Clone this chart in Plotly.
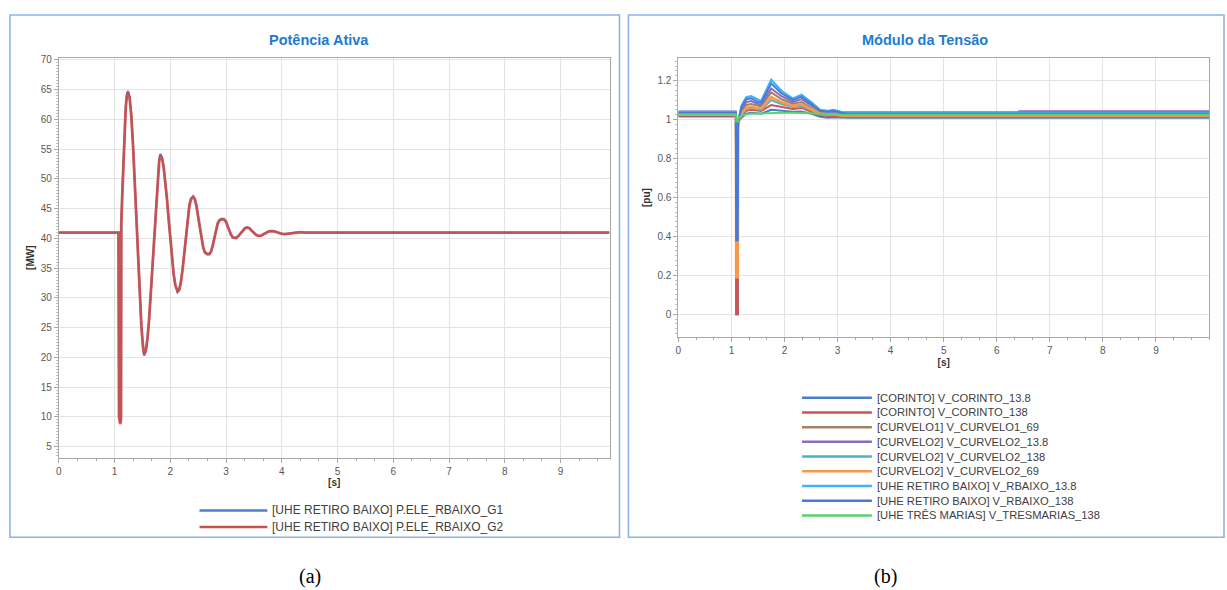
import plotly.graph_objects as go

W, H = 1227, 590


def px(x):
    return x / W


def py(y):
    return 1 - y / H


# ---------------- data: Potência Ativa [MW] ----------------
t_p = [0, 1.07, 1.08, 1.10, 1.115, 1.12, 1.14, 1.16, 1.18, 1.20, 1.22, 1.24,
       1.27, 1.30, 1.33, 1.36, 1.39, 1.42, 1.45, 1.48, 1.51, 1.53,
       1.56, 1.59, 1.62, 1.65, 1.68, 1.71, 1.74, 1.77, 1.80, 1.82,
       1.85, 1.88, 1.91, 1.94, 1.97, 2.00, 2.03, 2.06, 2.09, 2.13,
       2.16, 2.19, 2.22, 2.25, 2.28, 2.31, 2.34, 2.37, 2.41,
       2.44, 2.47, 2.50, 2.53, 2.56, 2.59, 2.62, 2.66, 2.70,
       2.73, 2.76, 2.79, 2.82, 2.85, 2.88, 2.92, 2.96,
       3.00, 3.03, 3.06, 3.09, 3.12, 3.15, 3.18,
       3.22, 3.26, 3.30, 3.34, 3.38, 3.42, 3.46, 3.50, 3.54, 3.58, 3.62,
       3.67, 3.72, 3.77, 3.82, 3.87, 3.93, 3.99, 4.05, 4.10, 4.17, 4.24,
       4.30, 4.36, 4.42, 9.88]
p_g2 = [41.0, 41.0, 10.0, 8.8, 9.5, 42.5, 48.0, 54.0, 58.8, 62.0, 64.0, 64.6,
        63.6, 60.6, 55.8, 49.8, 43.2, 36.6, 30.4, 25.4, 21.8, 20.5,
        21.2, 23.2, 26.5, 30.8, 35.8, 40.8, 45.5, 49.6, 53.0, 54.0,
        53.5, 52.0, 49.6, 46.6, 43.2, 39.8, 36.6, 34.0, 32.2, 31.1,
        31.4, 32.7, 34.8, 37.6, 40.7, 43.4, 45.4, 46.6, 47.0,
        46.6, 45.4, 43.6, 41.6, 39.8, 38.5, 37.7, 37.4, 37.4,
        37.8, 38.8, 40.2, 41.5, 42.5, 43.0, 43.2, 43.2,
        42.8, 42.0, 41.2, 40.6, 40.2, 40.1, 40.1,
        40.4, 40.9, 41.4, 41.7, 41.8, 41.7, 41.3, 40.9, 40.6, 40.45, 40.45,
        40.7, 41.0, 41.2, 41.25, 41.2, 41.0, 40.8, 40.75, 40.8, 40.95, 41.05,
        41.1, 41.05, 41.0, 41.0]
p_g1 = [41.0, 41.0, 10.3, 9.1, 9.8, 42.3, 48.2, 54.2, 59.0, 62.2, 64.2, 64.8,
        63.8, 60.8, 55.9, 49.8, 43.1, 36.4, 30.2, 25.2, 21.6, 20.3,
        21.0, 23.1, 26.5, 30.9, 35.9, 40.9, 45.7, 49.8, 53.2, 54.2,
        53.7, 52.1, 49.7, 46.6, 43.2, 39.7, 36.5, 33.9, 32.1, 31.0,
        31.3, 32.7, 34.9, 37.7, 40.8, 43.5, 45.5, 46.7, 47.1,
        46.7, 45.5, 43.6, 41.6, 39.7, 38.4, 37.6, 37.3, 37.3,
        37.7, 38.8, 40.2, 41.6, 42.6, 43.1, 43.3, 43.3,
        42.9, 42.0, 41.2, 40.6, 40.1, 40.0, 40.0,
        40.4, 40.9, 41.4, 41.8, 41.9, 41.7, 41.3, 40.9, 40.6, 40.4, 40.4,
        40.7, 41.0, 41.2, 41.3, 41.2, 41.0, 40.8, 40.7, 40.8, 40.95, 41.05,
        41.1, 41.05, 41.0, 41.0]
names_p = ["[UHE RETIRO BAIXO] P.ELE_RBAIXO_G1", "[UHE RETIRO BAIXO] P.ELE_RBAIXO_G2"]

# ---------------- data: Módulo da Tensão [pu] ----------------
t_v = [0, 1.085, 1.09, 1.12, 1.125, 1.13, 1.19, 1.28, 1.37, 1.50, 1.56, 1.75, 1.94,
       2.16, 2.32, 2.51, 2.67, 2.82, 2.92, 3.07, 3.2, 6.4, 6.42, 10]
v_corinto_13_8 = [1.016, 1.016, 0.0, 0.0, 0.96, 0.99, 1.01, 1.03, 1.035, 1.032, 1.03, 1.05,
                  1.045, 1.04, 1.042, 1.03, 1.015, 1.01, 1.012, 1.01, 1.01, 1.01, 1.01, 1.01]
v_corinto_138 = [1.02, 1.02, 0.0, 0.0, 0.96, 0.99, 1.02, 1.045, 1.05, 1.045, 1.044, 1.075,
                 1.065, 1.055, 1.06, 1.04, 1.022, 1.018, 1.02, 1.015, 1.015, 1.015, 1.015, 1.015]
v_curvelo1_69 = [1.025, 1.025, 0.2, 0.2, 0.97, 0.99, 1.04, 1.075, 1.08, 1.07, 1.068, 1.14,
                 1.105, 1.08, 1.09, 1.06, 1.035, 1.03, 1.032, 1.022, 1.02, 1.02, 1.02, 1.02]
v_curvelo2_13_8 = [1.042, 1.042, 0.2, 0.2, 0.97, 0.99, 1.05, 1.09, 1.095, 1.08, 1.078, 1.16,
                   1.12, 1.09, 1.105, 1.07, 1.045, 1.04, 1.042, 1.038, 1.038, 1.038, 1.043, 1.043]
v_curvelo2_138 = [1.03, 1.03, 0.2, 0.2, 0.97, 0.99, 1.025, 1.055, 1.058, 1.05, 1.05, 1.10,
                  1.08, 1.065, 1.07, 1.048, 1.03, 1.028, 1.03, 1.03, 1.03, 1.03, 1.03, 1.03]
v_curvelo2_69 = [1.025, 1.025, 0.19, 0.19, 0.97, 0.99, 1.03, 1.06, 1.065, 1.058, 1.056, 1.115,
                 1.09, 1.07, 1.078, 1.052, 1.03, 1.025, 1.027, 1.02, 1.02, 1.02, 1.02, 1.02]
v_rbaixo_13_8 = [1.04, 1.04, 0.55, 0.55, 0.98, 0.99, 1.07, 1.115, 1.12, 1.10, 1.095, 1.205,
                 1.148, 1.108, 1.128, 1.088, 1.05, 1.045, 1.05, 1.04, 1.035, 1.035, 1.035, 1.035]
v_rbaixo_138 = [1.035, 1.035, 0.38, 0.38, 0.98, 0.99, 1.065, 1.105, 1.11, 1.09, 1.088, 1.185,
                1.135, 1.10, 1.118, 1.08, 1.045, 1.04, 1.045, 1.035, 1.03, 1.03, 1.03, 1.03]
v_tresmarias_138 = [1.028, 1.028, 0.99, 0.99, 1.0, 1.01, 1.02, 1.028, 1.03, 1.032, 1.032, 1.035,
                    1.035, 1.035, 1.035, 1.032, 1.028, 1.026, 1.026, 1.025, 1.025, 1.025, 1.025, 1.025]
names_v = [
    "[CORINTO] V_CORINTO_13.8",
    "[CORINTO] V_CORINTO_138",
    "[CURVELO1] V_CURVELO1_69",
    "[CURVELO2] V_CURVELO2_13.8",
    "[CURVELO2] V_CURVELO2_138",
    "[CURVELO2] V_CURVELO2_69",
    "[UHE RETIRO BAIXO] V_RBAIXO_13.8",
    "[UHE RETIRO BAIXO] V_RBAIXO_138",
    "[UHE TRÊS MARIAS] V_TRESMARIAS_138",
]
values_v = [v_corinto_13_8, v_corinto_138, v_curvelo1_69, v_curvelo2_13_8, v_curvelo2_138,
            v_curvelo2_69, v_rbaixo_13_8, v_rbaixo_138, v_tresmarias_138]

x_ticks = list(range(0, 10))

# ---------------- styles ----------------
colors_p = ["#4F7FD0", "#C9504E"]
colors_v = ["#4A7EC9", "#D05252", "#A08262", "#8A6BBE", "#45B3C8",
            "#F59A4B", "#3DB5F2", "#4A78D8", "#5BD06E"]
widths_v = [2, 2, 2, 2, 2, 2.6, 2.2, 2, 2]
FONT = "Liberation Sans, Arial, sans-serif"
TICK_FONT = dict(family=FONT, size=10, color="#595959")
AX_TITLE_FONT = dict(family=FONT, size=10, color="#333333", weight="bold")
TITLE_COLOR = "#1E7BD0"
GRID = "#E3E3E3"
FRAME = "#A8A8A8"

fig = go.Figure()

for name, vals, col, w in zip(names_p, [p_g1, p_g2], colors_p, [2.0, 2.8]):
    fig.add_trace(go.Scatter(x=t_p, y=vals, name=name, mode="lines",
                             line=dict(color=col, width=w),
                             opacity=0.92 if w > 2 else 1, showlegend=False,
                             xaxis="x", yaxis="y"))

for name, vals, col, w in zip(names_v, values_v, colors_v, widths_v):
    fig.add_trace(go.Scatter(x=t_v, y=vals, name=name, mode="lines",
                             line=dict(color=col, width=w), showlegend=False,
                             xaxis="x2", yaxis="y2"))


def xaxis_cfg(domain, rng, anchor):
    return dict(domain=domain, range=rng, anchor=anchor, tickmode="array",
                tickvals=x_ticks, ticktext=[str(v) for v in x_ticks],
                ticks="outside", ticklen=4, tickcolor=FRAME, tickfont=TICK_FONT,
                showgrid=True, gridcolor=GRID, gridwidth=1, zeroline=False,
                showline=True, linecolor=FRAME, linewidth=1, mirror=True,
                minor=dict(dtick=1 / 3, ticks="outside", ticklen=2, tickcolor=FRAME,
                           showgrid=False),
                title=dict(text="[s]", font=AX_TITLE_FONT, standoff=3))


def yaxis_cfg(domain, rng, anchor, dtick, minor_dtick, title, standoff):
    return dict(domain=domain, range=rng, anchor=anchor, dtick=dtick, tick0=0,
                ticks="outside", ticklen=4, tickcolor=FRAME, tickfont=TICK_FONT,
                showgrid=True, gridcolor=GRID, gridwidth=1, zeroline=False,
                showline=True, linecolor=FRAME, linewidth=1, mirror=True,
                minor=dict(dtick=minor_dtick, ticks="outside", ticklen=2,
                           tickcolor="#C0C0C0", showgrid=False),
                title=dict(text=title, font=AX_TITLE_FONT, standoff=standoff))


fig.update_layout(
    width=W, height=H, margin=dict(l=0, r=0, t=0, b=0),
    paper_bgcolor="white", plot_bgcolor="white",
    font=dict(family=FONT),
    xaxis=xaxis_cfg([px(56), px(608)], [0, 9.88], "y"),
    yaxis=yaxis_cfg([py(457), py(55)], [3.16, 70.38], "x", 5, 0.5, "[MW]", 4),
    xaxis2=xaxis_cfg([px(677), px(1209)], [0, 10.0], "y2"),
    yaxis2=yaxis_cfg([py(336), py(55)], [-0.119, 1.318], "x2", 0.2, 0.025, "[pu]", 4),
)

shapes = []
annotations = []

# panel frames
for x0, x1 in [(7, 618), (627, 1224)]:
    shapes.append(dict(type="rect", xref="paper", yref="paper",
                       x0=px(x0), x1=px(x1), y0=py(537), y1=py(12),
                       line=dict(color="#8DB4E6", width=1.6), fillcolor="rgba(0,0,0,0)",
                       layer="below"))

# panel titles
for text, xc in [("Potência Ativa", 317), ("Módulo da Tensão", 924)]:
    annotations.append(dict(text=text, xref="paper", yref="paper", x=px(xc), y=py(37),
                            xanchor="center", yanchor="middle", showarrow=False,
                            font=dict(family=FONT, size=14.5, color=TITLE_COLOR, weight="bold")))

# legends (drawn manually to match the sample length and row spacing)
for i, (name, col) in enumerate(zip(names_p, colors_p)):
    yy = 510 + i * 16.7
    shapes.append(dict(type="line", xref="paper", yref="paper", x0=px(197), x1=px(265),
                       y0=py(yy), y1=py(yy), line=dict(color=col, width=2.5)))
    annotations.append(dict(text=name, xref="paper", yref="paper", x=px(268), y=py(yy),
                            xanchor="left", yanchor="middle", showarrow=False,
                            font=dict(family=FONT, size=12, color="#404040")))
for i, (name, col) in enumerate(zip(names_v, colors_v)):
    yy = 396.7 + i * 14.8
    shapes.append(dict(type="line", xref="paper", yref="paper", x0=px(801), x1=px(871),
                       y0=py(yy), y1=py(yy), line=dict(color=col, width=2.5)))
    annotations.append(dict(text=name, xref="paper", yref="paper", x=px(874), y=py(yy),
                            xanchor="left", yanchor="middle", showarrow=False,
                            font=dict(family=FONT, size=11.2, color="#404040")))

# captions
for text, xc in [("(a)", 308), ("(b)", 885)]:
    annotations.append(dict(text=text, xref="paper", yref="paper", x=px(xc), y=py(576),
                            xanchor="center", yanchor="middle", showarrow=False,
                            font=dict(family="Liberation Serif, Times New Roman, serif",
                                      size=20, color="#000000")))

fig.update_layout(shapes=shapes, annotations=annotations)

fig.write_html("out.html", config={"displayModeBar": False},
               post_script="document.body.style.margin='0';document.body.style.overflow='hidden';")
